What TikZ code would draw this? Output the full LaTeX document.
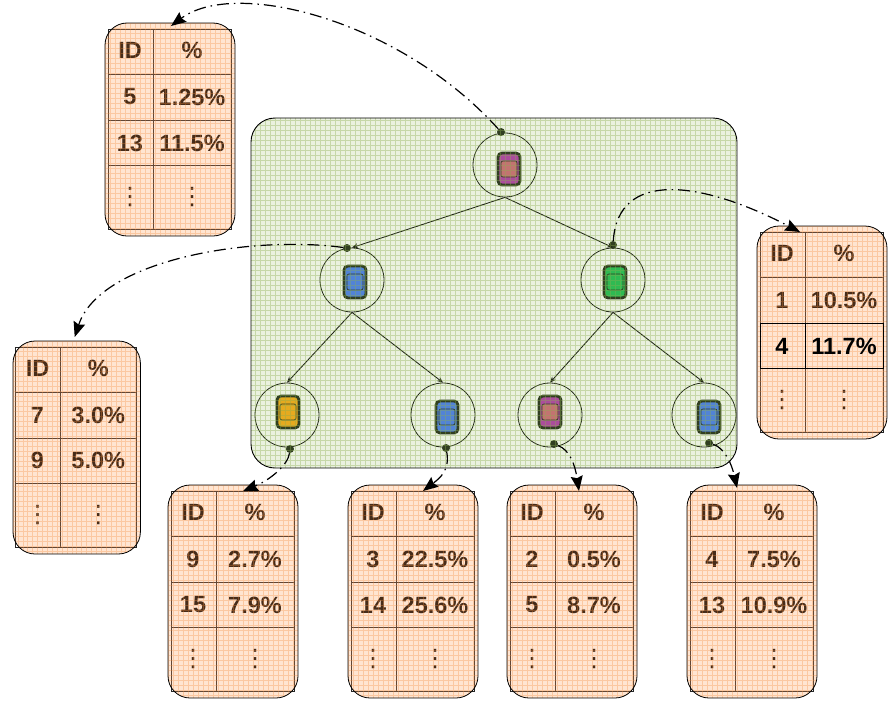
\documentclass[tikz,border=0pt]{standalone}
\usepackage{amsmath}
\usepackage{fontspec}
\setmainfont{Liberation Sans}
\newfontfamily\vdotsfont{DejaVu Sans}
\usepackage{tikz}
\usetikzlibrary{arrows.meta, positioning, calc}

\definecolor{panelgreen}{RGB}{160,190,110}
\definecolor{gridgreen}{RGB}{140,175,80}
\definecolor{tableorange}{RGB}{255,160,90}
\definecolor{gridorange}{RGB}{245,140,60}
\definecolor{phoneedge}{RGB}{18,28,12}
\definecolor{phonepurple}{RGB}{175,45,170}
\definecolor{phonerose}{RGB}{205,95,115}
\definecolor{phoneblue}{RGB}{60,115,245}
\definecolor{phoneyellow}{RGB}{250,165,10}
\definecolor{phonegreen}{RGB}{15,185,75}

% one row of a table
\newcommand{\idrow}[4]{%
    \node[celltext] (#1i) at (25,#2) {#3};
    \node[celltext] (#1p) at (87,#2) {#4};
}
% table with rounded panel: name, scope options, rows
\newcommand{\idtable}[3]{%
    \begin{scope}[#2]
        \coordinate (#1) at (65,0);
        \draw[tableline] (3,6) rectangle (126,206);
        \draw[tableline] (48,6) -- (48,206);
        \draw[tableline] (3,51) -- (126,51);
        \draw[tableline] (3,97) -- (126,97);
        \draw[tableline] (3,142) -- (126,142);
        \node[celltext] (#1hi) at (25,27) {ID};
        \node[celltext] (#1hp) at (87,27) {\%};
        #3
        \node[dotstext] (#1di) at (25,174) {⋮};
        \node[dotstext] (#1dp) at (87,174) {⋮};
        \begin{scope}
            \clip[rounded corners=22pt] (0,0) rectangle (130,213);
            \fill[tableorange, opacity=0.28] (0,0) rectangle (130,213);
            \draw[gridorange, opacity=0.32, line width=0.5pt, step=5pt] (0,0) grid (130,213);
        \end{scope}
        \draw[black, line width=0.8pt, rounded corners=22pt] (0,0) rectangle (130,213);
    \end{scope}
}

\begin{document}
\begin{tikzpicture}[
        x=1pt, y=-1pt,
        celltext/.style={font=\fontsize{23.5}{25}\selectfont\bfseries, inner sep=0pt, text=black},
        dotstext/.style={font=\fontsize{24}{26}\vdotsfont, inner sep=0pt, text=black},
        tableline/.style={draw=black!85, line width=0.9pt},
        treenode/.style={circle, draw=black, line width=0.8pt, minimum size=64pt, inner sep=0pt},
        phone/.style={rectangle, rounded corners=4pt, draw=phoneedge, line width=2.8pt, minimum width=22pt, minimum height=32pt, inner sep=0pt},
        phonecore/.style={rectangle, rounded corners=2pt, draw=phoneedge, line width=0.7pt, minimum size=16pt, inner sep=0pt},
        srcdot/.style={circle, fill=phoneedge, minimum size=8pt, inner sep=0pt},
        treeedge/.style={draw=black, line width=0.9pt, -{Stealth[length=6pt, width=5pt]}},
        toTable/.style={draw=black, line width=1.2pt, dash pattern=on 12pt off 5pt on 1.5pt off 5pt, -{Stealth[length=15pt, width=12pt, inset=2pt]}}
    ]
        \useasboundingbox (0,0) rectangle (890,704);

        % Tree nodes
        \node[treenode] (root) at (505,165) {};
        \node[treenode] (left) at (352,280) {};
        \node[treenode] (right) at (613,280) {};
        \node[treenode] (leftA) at (287,415) {};
        \node[treenode] (leftB) at (443,415) {};
        \node[treenode] (rightA) at (550,415) {};
        \node[treenode] (rightB) at (704,415) {};

        % Phones
        \node[phone, fill=phonepurple] (phRoot) at (509,169) {};
        \node[phone, fill=phoneblue] (phLeft) at (355,282) {};
        \node[phone, fill=phonegreen] (phRight) at (615,282) {};
        \node[phone, fill=phoneyellow] (phLeftA) at (288,412) {};
        \node[phone, fill=phoneblue] (phLeftB) at (447,417) {};
        \node[phone, fill=phonepurple] (phRightA) at (550,412) {};
        \node[phone, fill=phoneblue] (phRightB) at (709,417) {};
        \node[phonecore, fill=phonerose] (coRoot) at (phRoot) {};
        \node[phonecore] (coLeft) at (phLeft) {};
        \node[phonecore] (coRight) at (phRight) {};
        \node[phonecore] (coLeftA) at (phLeftA) {};
        \node[phonecore] (coLeftB) at (phLeftB) {};
        \node[phonecore, fill=phonerose] (coRightA) at (phRightA) {};
        \node[phonecore] (coRightB) at (phRightB) {};

        % Source dots
        \node[srcdot] (dotRoot) at (501,132) {};
        \node[srcdot] (dotLeft) at (347,248) {};
        \node[srcdot] (dotRight) at (613,245) {};
        \node[srcdot] (dotLeftA) at (290,449) {};
        \node[srcdot] (dotLeftB) at (446,448) {};
        \node[srcdot] (dotRightA) at (554,444) {};
        \node[srcdot] (dotRightB) at (709,443) {};

        % Tree edges
        \draw[treeedge] (root.south) -- (left.north);
        \draw[treeedge] (root.south) -- (right.north);
        \draw[treeedge] (left.south) -- (leftA.north);
        \draw[treeedge] (left.south) -- (leftB.north);
        \draw[treeedge] (right.south) -- (rightA.north);
        \draw[treeedge] (right.south) -- (rightB.north);

        % Green panel
        \begin{scope}
            \clip[rounded corners=24pt] (251,118) rectangle (737,468);
            \fill[panelgreen, opacity=0.22] (251,118) rectangle (737,468);
            \draw[gridgreen, opacity=0.38, line width=0.5pt, step=5pt] (251,118) grid (737,468);
        \end{scope}
        \draw[black, line width=0.9pt, rounded corners=24pt] (251,118) rectangle (737,468);

        % Tables
        \idtable{tabRoot}{shift={(105,23)}}{\idrow{ra}{74}{5}{1.25\%}\idrow{rb}{120}{13}{11.5\%}}
        \idtable{tabRight}{shift={(757,226)}}{\idrow{sa}{74}{1}{10.5\%}}
        \idtable{tabLeft}{shift={(13,341)},xscale=0.98}{\idrow{la}{74}{7}{3.0\%}\idrow{lb}{119}{9}{5.0\%}}
        \idtable{tabLeftA}{shift={(168,485)}}{\idrow{pa}{74}{9}{2.7\%}\idrow{pb}{120}{15}{7.9\%}}
        \idtable{tabLeftB}{shift={(348,485)}}{\idrow{qa}{74}{3}{22.5\%}\idrow{qb}{120}{14}{25.6\%}}
        \idtable{tabRightA}{shift={(507,485)}}{\idrow{ta}{74}{2}{0.5\%}\idrow{tb}{120}{5}{8.7\%}}
        \idtable{tabRightB}{shift={(687,485)}}{\idrow{ua}{74}{4}{7.5\%}\idrow{ub}{120}{13}{10.9\%}}

        % Highlighted row
        \begin{scope}[shift={(757,226)}]
            \draw[tableline, draw=black] (3,97) rectangle (126,142);
            \draw[tableline, draw=black] (48,97) -- (48,142);
            \idrow{sb}{120}{4}{11.7\%}
        \end{scope}

        % Connections to tables
        \draw[toTable] (dotRoot) .. controls (400,20) and (235,-22) .. ([xshift=1pt, yshift=-3pt]tabRoot);
        \draw[toTable] (dotRight) .. controls (618,170) and (700,180) .. ([xshift=-22pt, yshift=-6pt]tabRight);
        \draw[toTable] (dotLeft) .. controls (250,235) and (100,260) .. ([xshift=-2pt, yshift=4pt]tabLeft);
        \draw[toTable] (dotLeftA) .. controls (288,465) and (270,480) .. ([xshift=10pt, yshift=-6pt]tabLeftA);
        \draw[toTable] (dotLeftB) .. controls (450,470) and (440,478) .. ([xshift=10pt, yshift=-6pt]tabLeftB);
        \draw[toTable] (dotRightA) .. controls (570,450) and (575,465) .. ([xshift=7pt, yshift=-6pt]tabRightA);
        \draw[toTable] (dotRightB) .. controls (725,448) and (732,465) .. ([xshift=-15pt, yshift=-3pt]tabRightB);
    \end{tikzpicture}
\end{document}
